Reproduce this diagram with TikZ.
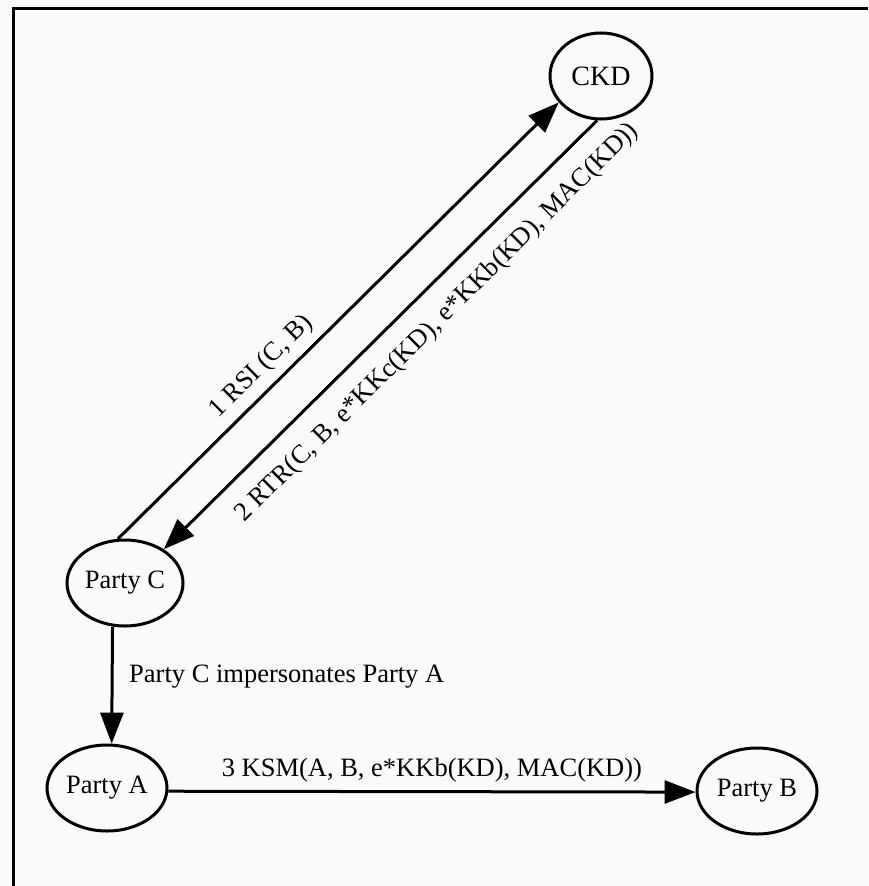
\documentclass[tikz,border=0pt]{standalone}
\usepackage{fontspec}
\setmainfont{Liberation Serif}
\usetikzlibrary{arrows.meta,shapes.geometric}
\tikzset{
  party/.style={draw, ellipse, line width=3pt, inner sep=0pt,
    font=\fontsize{26.5}{30}\selectfont},
  msg/.style={line width=3pt, -{Triangle[length=31pt,width=23pt]}},
  lbl/.style={font=\fontsize{26.5}{30}\selectfont, inner sep=2pt}
}
\begin{document}
\begin{tikzpicture}[x=1pt,y=-1pt]
  \useasboundingbox[fill=white!98!black] (0,0) rectangle (868,886);
  % frame (top and left edges)
  \draw[line width=3pt] (13,886) -- (13,8) -- (868,8);

  % nodes
  \node[party, minimum width=102pt, minimum height=86pt,
        font=\fontsize{28}{30}\selectfont] (ckd) at (601,76) {CKD};
  \node[party, minimum width=116pt, minimum height=86pt] (pc) at (125,583) {Party C};
  \node[party, minimum width=120pt, minimum height=86pt] (pa) at (107,788) {Party A};
  \node[party, minimum width=120pt, minimum height=86pt] (pb) at (757,791) {Party B};

  % messages
  \draw[msg] (pc.99) -- node[lbl, pos=0.36, sloped, above=6pt] {1 RSI (C, B)} (ckd.212);
  \draw[msg] (ckd.265) -- node[lbl, pos=0.42, sloped, below=16pt]
      {2 RTR(C, B, e*KKc(KD), e*KKb(KD), MAC(KD))} (pc.41);
  \draw[msg] (pc.254) -- (pa.84);
  \node[lbl, anchor=west] (imp) at (127,677) {Party C impersonates Party A};
  \draw[msg] (pa.-3) -- node[lbl, above=6pt] {3 KSM(A, B, e*KKb(KD), MAC(KD))} (pb.181);
\end{tikzpicture}
\end{document}
